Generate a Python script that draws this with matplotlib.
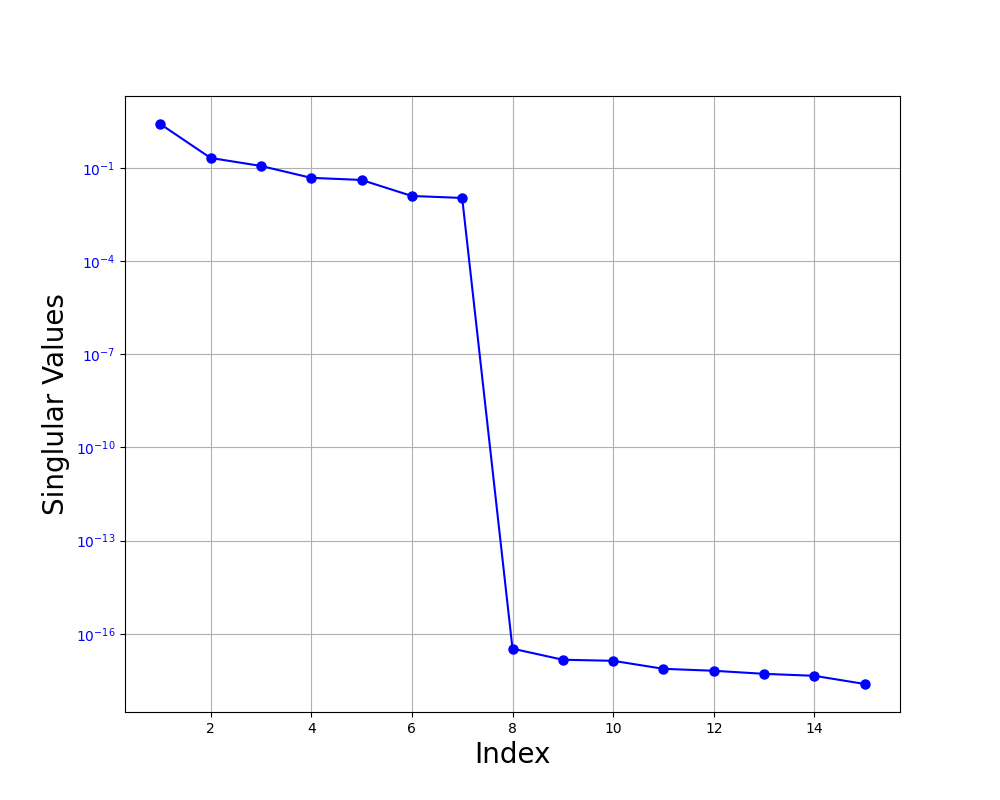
import matplotlib
matplotlib.use("Agg")
import matplotlib.pyplot as plt
import numpy as np

index = [1, 2, 3, 4, 5, 6, 7, 8, 9, 10, 11, 12, 13, 14, 15]
singular_values = [2.6, 0.21, 0.116, 0.048, 0.041, 0.0125, 0.0108,
                   3.3e-17, 1.45e-17, 1.34e-17, 7.4e-18, 6.4e-18, 5.1e-18, 4.4e-18, 2.4e-18]

fig, ax = plt.subplots(figsize=(10, 8), dpi=100)
ax.semilogy(index, singular_values, 'o-', color='blue', markersize=6.5)
ax.set_xlabel('Index', fontsize=20)
ax.set_ylabel('Singlular Values', fontsize=20)
ax.tick_params(axis='y', labelcolor='blue')
ax.grid(True)
fig.savefig('out.png')
